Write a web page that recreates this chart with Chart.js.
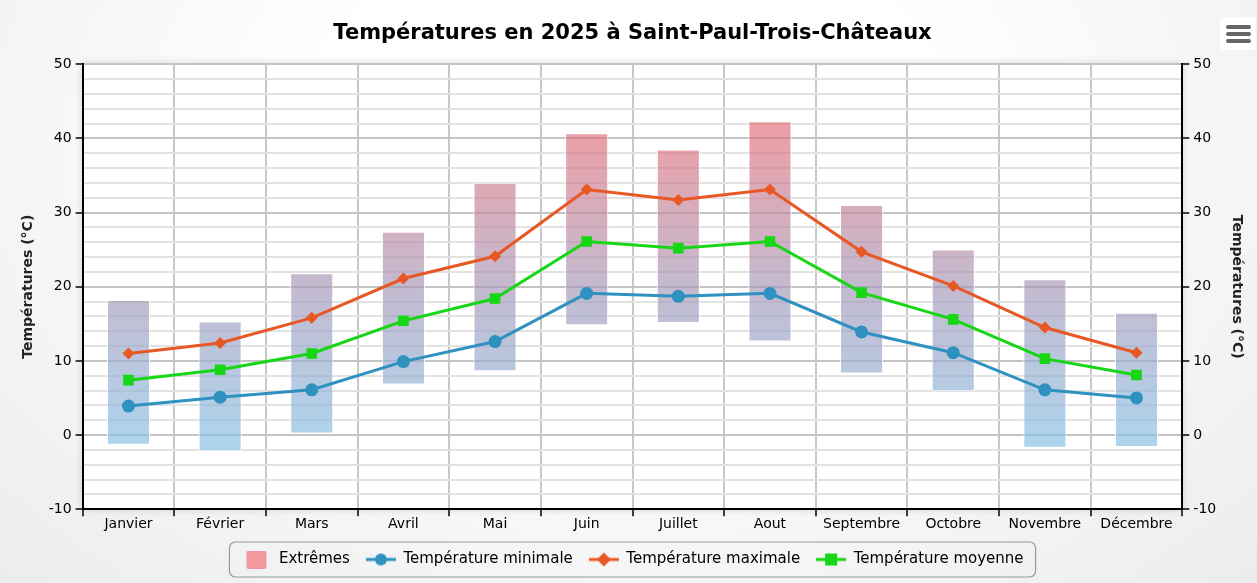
<!DOCTYPE html>
<html lang="fr">
<head>
<meta charset="utf-8">
<title>Températures 2025</title>
<script src="https://cdn.jsdelivr.net/npm/chart.js@4"></script>
<style>
  html, body { margin: 0; padding: 0; }
  body {
    width: 1257px; height: 583px; overflow: hidden;
    background: radial-gradient(ellipse at 50% 25%, #ffffff 35%, #ececec 100%);
  }
  #wrap { position: relative; width: 1257px; height: 583px; }
  #menu {
    position: absolute; left: 1220px; top: 17px; width: 36px; height: 33px;
    background: #fff; border-radius: 4px;
  }
  #menu span {
    position: absolute; left: 6px; width: 25px; height: 4px; border-radius: 2px; background: #666;
  }
</style>
</head>
<body>
<div id="wrap">
  <canvas id="tempChart"></canvas>
  <div id="menu"><span style="top:8px"></span><span style="top:15px"></span><span style="top:22px"></span></div>
</div>
<script>
// data
const months = ['Janvier', 'Février', 'Mars', 'Avril', 'Mai', 'Juin', 'Juillet', 'Aout', 'Septembre', 'Octobre', 'Novembre', 'Décembre'];
const extremeLow = [-1.3, -2.2, 0.2, 6.8, 8.6, 14.8, 15.1, 12.6, 8.3, 5.9, -1.7, -1.6];
const extremeHigh = [18.2, 15.3, 21.8, 27.4, 34.0, 40.7, 38.5, 42.3, 31.0, 25.0, 21.0, 16.5];
const tempMin = [3.9, 5.1, 6.1, 9.9, 12.6, 19.1, 18.7, 19.1, 13.9, 11.1, 6.1, 5.0];
const tempMax = [11.0, 12.4, 15.8, 21.1, 24.1, 33.1, 31.7, 33.1, 24.7, 20.1, 14.5, 11.1];
const tempMean = [7.4, 8.8, 11.0, 15.4, 18.4, 26.1, 25.2, 26.1, 19.2, 15.6, 10.3, 8.1];

const fontName = '"DejaVu Sans", sans-serif';
const blue = 'rgb(47,145,192)';
const orange = 'rgb(232,88,36)';
const green = 'rgb(22,214,22)';

// small images for the legend (line + marker)
function legendIcon(color, shape) {
    const c = document.createElement('canvas');
    c.width = 30; c.height = 18;
    const g = c.getContext('2d');
    g.fillStyle = color;
    g.strokeStyle = color;
    if (shape === 'box') {
        g.fillStyle = 'rgba(240,130,135,0.8)';
        g.beginPath();
        g.roundRect(5, 0, 20, 18, 2);
        g.fill();
        return c;
    }
    g.lineWidth = 3;
    g.beginPath();
    g.moveTo(0, 9); g.lineTo(30, 9);
    g.stroke();
    g.beginPath();
    if (shape === 'circle') {
        g.arc(15, 9, 6, 0, Math.PI * 2);
    } else if (shape === 'diamond') {
        g.moveTo(15, 2); g.lineTo(22, 9); g.lineTo(15, 16); g.lineTo(8, 9); g.closePath();
    } else {
        g.rect(9, 3, 12, 12);
    }
    g.fill();
    return c;
}
const icons = [legendIcon(null, 'box'), legendIcon(blue, 'circle'), legendIcon(orange, 'diamond'), legendIcon(green, 'square')];

function barGradient(context) {
    const chart = context.chart;
    if (!chart.chartArea) return 'rgba(190,180,205,0.7)';
    const y = chart.scales.y;
    const g = chart.ctx.createLinearGradient(0, y.getPixelForValue(42), 0, y.getPixelForValue(-2));
    g.addColorStop(0, 'rgba(228,112,122,0.68)');
    g.addColorStop(0.5, 'rgba(165,150,182,0.66)');
    g.addColorStop(1, 'rgba(130,192,230,0.66)');
    return g;
}

// white plot area with a soft shadow, and a box round the legend
const plotBackground = {
    id: 'plotBackground',
    beforeDraw(chart) {
        const { ctx, chartArea: a } = chart;
        ctx.save();
        ctx.shadowColor = 'rgba(0,0,0,0.18)';
        ctx.shadowBlur = 8;
        ctx.fillStyle = '#fff';
        ctx.fillRect(a.left, a.top, a.right - a.left, a.bottom - a.top);
        ctx.restore();
    },
    afterDraw(chart) {
        const boxes = chart.legend.legendHitBoxes;
        if (!boxes || !boxes.length) return;
        const left = Math.min(...boxes.map(b => b.left)) - 12;
        const right = Math.max(...boxes.map(b => b.left + b.width)) + 12;
        const top = Math.min(...boxes.map(b => b.top)) - 10;
        const bottom = Math.max(...boxes.map(b => b.top + b.height)) + 10;
        const ctx = chart.ctx;
        ctx.save();
        ctx.strokeStyle = '#999';
        ctx.lineWidth = 1.2;
        ctx.beginPath();
        ctx.roundRect(left, top, right - left, bottom - top, 6);
        ctx.stroke();
        ctx.restore();
    }
};

const isMajor = v => Math.round(v) % 10 === 0;

function yAxis(position) {
    return {
        position: position,
        min: -10,
        max: 50,
        ticks: {
            stepSize: 2,
            autoSkip: false,
            color: '#000',
            font: { family: fontName, size: 14 },
            padding: 4,
            callback: v => isMajor(v) ? v : ''
        },
        grid: {
            drawOnChartArea: position === 'left',
            color: ctx => isMajor(ctx.tick.value) ? '#c4c4c4' : '#e2e2e2',
            lineWidth: 2,
            tickColor: ctx => isMajor(ctx.tick.value) ? '#000' : 'rgba(0,0,0,0)',
            tickLength: 7,
            tickWidth: 1.5
        },
        border: { color: '#000', width: 2 },
        title: {
            display: true,
            text: 'Températures (°C)',
            color: '#222',
            font: { family: fontName, size: 14, weight: 'bold' },
            padding: { top: 0, bottom: 8 }
        }
    };
}

document.addEventListener('DOMContentLoaded', function () {
    const canvas = document.getElementById('tempChart');
    new Chart(canvas, {
        data: {
            labels: months,
            datasets: [
                {
                    type: 'bar',
                    label: 'Extrêmes',
                    data: extremeLow.map((v, i) => [v, extremeHigh[i]]),
                    backgroundColor: barGradient,
                    borderColor: '#fff',
                    borderWidth: 1,
                    borderSkipped: false,
                    barPercentage: 0.47,
                    categoryPercentage: 1,
                    order: 5
                },
                {
                    type: 'line',
                    label: 'Température minimale',
                    data: tempMin,
                    borderColor: blue,
                    backgroundColor: blue,
                    borderWidth: 3,
                    pointStyle: 'circle',
                    pointRadius: 6.5,
                    pointBorderWidth: 0,
                    tension: 0,
                    order: 1
                },
                {
                    type: 'line',
                    label: 'Température maximale',
                    data: tempMax,
                    borderColor: orange,
                    backgroundColor: orange,
                    borderWidth: 3,
                    pointStyle: 'rectRot',
                    pointRadius: 6,
                    pointBorderWidth: 0,
                    order: 1
                },
                {
                    type: 'line',
                    label: 'Température moyenne',
                    data: tempMean,
                    borderColor: green,
                    backgroundColor: green,
                    borderWidth: 3,
                    pointStyle: 'rect',
                    pointRadius: 7.5,
                    pointBorderWidth: 0,
                    order: 1
                }
            ]
        },
        options: {
            responsive: true,
            maintainAspectRatio: false,
            animation: false,
            layout: { padding: { left: 20, right: 12, top: 4, bottom: 6 } },
            scales: {
                x: {
                    ticks: { color: '#000', font: { family: fontName, size: 14 }, padding: 0 },
                    grid: { color: '#c8c8c8', lineWidth: 2, tickColor: '#000', tickLength: 7, tickWidth: 1.5, offset: true },
                    border: { color: '#000', width: 2 },
                    afterFit: scale => { scale.height += 3; }
                },
                y: yAxis('left'),
                y2: yAxis('right')
            },
            plugins: {
                title: {
                    display: true,
                    text: 'Températures en 2025 à Saint-Paul-Trois-Châteaux',
                    color: '#000',
                    font: { family: fontName, size: 21, weight: 'bold' },
                    padding: { top: 17, bottom: 18 }
                },
                legend: {
                    position: 'bottom',
                    labels: {
                        usePointStyle: true,
                        pointStyleWidth: 30,
                        padding: 16,
                        color: '#000',
                        font: { family: fontName, size: 15 },
                        generateLabels: chart => chart.data.datasets.map((ds, i) => ({
                            text: ds.label,
                            pointStyle: icons[i],
                            datasetIndex: i,
                            hidden: false,
                            fontColor: '#000',
                            lineWidth: 0
                        }))
                    }
                },
                tooltip: { enabled: true }
            }
        },
        plugins: [plotBackground]
    });
});
</script>
</body>
</html>
